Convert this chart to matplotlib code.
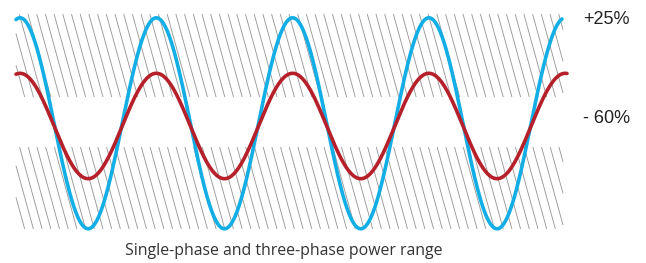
import numpy as np
import matplotlib
matplotlib.use("Agg")
import matplotlib.pyplot as plt

# --- chart data (schematic waveforms) ---
series_names = ["Single-phase", "Three-phase"]
amplitudes = [105.5, 52.7]          # wave amplitude (px units of the canvas)
centers = [123.3, 126.0]            # wave centre line
periods = [136.3, 136.3]
phase_peak_x = [20.0, 20.0]
x_ranges = [(16, 562), (16, 567)]
colors = ["#13aee6", "#b5202a"]
level_labels = ["+25%", "- 60%"]
level_label_y = [19, 118.5]
bands = [(14, 97), (147, 229)]      # hatched bands (top, bottom)
band_x = (16, 563)
caption = "Single-phase and three-phase power range"

W, H = 646, 263
fig = plt.figure(figsize=(W / 100, H / 100), dpi=100)
ax = fig.add_axes([0, 0, 1, 1])
ax.set_xlim(0, W)
ax.set_ylim(H, 0)
ax.axis("off")

# hatched bands
spacing = 8.7
slope = 11.0 / 40.0   # dx per dy
for (y0, y1) in bands:
    hgt = y1 - y0
    xs = np.arange(band_x[0] - hgt * slope - spacing * 2, band_x[1] + spacing, spacing)
    for xs0 in xs:
        xa, ya = xs0, y0
        xb, yb = xs0 + hgt * slope, y1
        t0, t1 = 0.0, 1.0
        dx = xb - xa
        if xa < band_x[0]:
            t0 = max(t0, (band_x[0] - xa) / dx)
        if xb > band_x[1]:
            t1 = min(t1, (band_x[1] - xa) / dx)
        if t1 <= t0:
            continue
        ax.plot([xa + dx * t0, xa + dx * t1], [ya + hgt * t0, ya + hgt * t1],
                color="#9a9a9a", lw=0.65, solid_capstyle="butt", zorder=1)

# waveforms
for amp, c, per, px, xr, col in zip(amplitudes, centers, periods, phase_peak_x, x_ranges, colors):
    x = np.linspace(xr[0], xr[1], 800)
    y = c - amp * np.cos(2 * np.pi * (x - px) / per)
    ax.plot(x, y, color=col, lw=2.6, solid_capstyle="round", zorder=3)

for lab, yy in zip(level_labels, level_label_y):
    ax.text(583, yy, lab, fontsize=13, family="Liberation Sans", color="#222222",
            va="center", ha="left")

ax.text(283.5, 251, caption, fontsize=11.4, family="Open Sans", color="#333333",
        va="center", ha="center")

fig.savefig("out.png", dpi=100)
